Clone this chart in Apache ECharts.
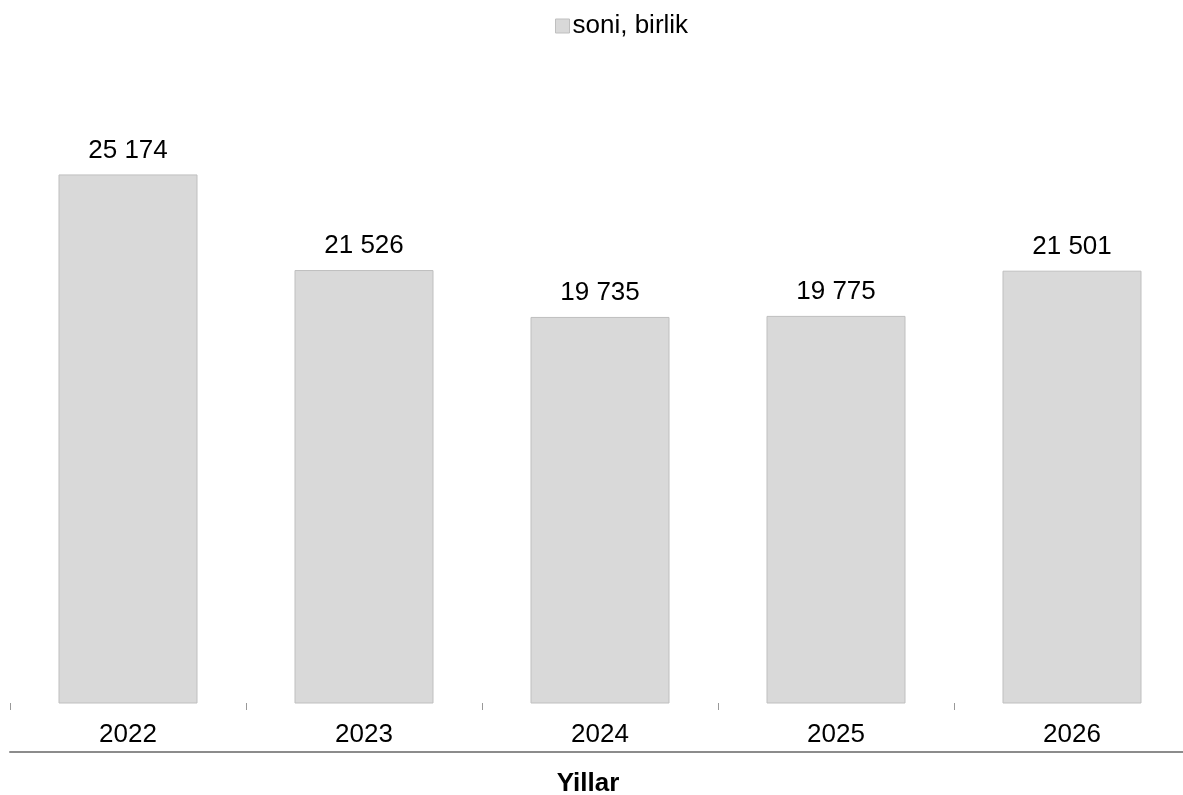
<!DOCTYPE html>
<html>
<head>
<meta charset="utf-8">
<script src="https://cdn.jsdelivr.net/npm/echarts@6/dist/echarts.min.js"></script>
<style>
html,body{margin:0;padding:0;background:#fff;}
#chart{width:1183px;height:795px;}
</style>
</head>
<body>
<div id="chart"></div>
<script>
const categories = ['2022', '2023', '2024', '2025', '2026'];
const values = [25174, 21526, 19735, 19775, 21501];
const seriesName = 'soni, birlik';
const axisName = 'Yillar';

const FONT = '"Liberation Sans", Arial, sans-serif';
const chart = echarts.init(document.getElementById('chart'));
function fmt(v) {
  return String(v).replace(/\B(?=(\d{3})+(?!\d))/g, ' ');
}
chart.setOption({
  animation: false,
  backgroundColor: '#fff',
  textStyle: { fontFamily: FONT },
  legend: {
    top: 13,
    left: 555,
    padding: 0,
    icon: 'rect',
    itemWidth: 14,
    itemHeight: 14,
    itemGap: 4,
    itemStyle: { color: '#d9d9d9', borderColor: '#bfbfbf', borderWidth: 1 },
    textStyle: { fontSize: 26, color: '#000', fontFamily: FONT, padding: [0,0,0,-2] },
    data: [seriesName]
  },
  grid: { left: 10, width: 1180, top: 48, height: 655, outerBoundsMode: 'none', containLabel: false },
  xAxis: [{
    type: 'category',
    data: categories,
    position: 'bottom',
    axisLine: { show: false },
    axisTick: { show: true, length: 7, lineStyle: { color: '#999999', width: 1 } },
    axisLabel: { fontSize: 26, color: '#000', margin: 19, fontFamily: FONT }
  }, {
    type: 'category',
    data: categories,
    position: 'bottom',
    offset: 49,
    axisLine: { show: true, lineStyle: { color: '#8c8c8c', width: 2 } },
    axisTick: { show: false },
    axisLabel: { show: false },
    name: axisName,
    nameLocation: 'middle',
    nameGap: 19,
    nameTextStyle: { fontSize: 26, fontWeight: 'bold', color: '#000', fontFamily: FONT, padding: [0, 24, 0, 0] }
  }],
  yAxis: {
    type: 'value',
    min: 5000,
    max: 30000,
    show: false,
    splitLine: { show: false }
  },
  series: [{
    name: seriesName,
    type: 'bar',
    data: values,
    barWidth: 139,
    itemStyle: { color: '#d9d9d9', borderColor: '#bfbfbf', borderWidth: 1 },
    label: {
      show: true,
      position: 'top',
      distance: 11,
      fontSize: 26,
      color: '#000',
      fontFamily: FONT,
      formatter: p => fmt(p.value)
    }
  }]
});
</script>
</body>
</html>
